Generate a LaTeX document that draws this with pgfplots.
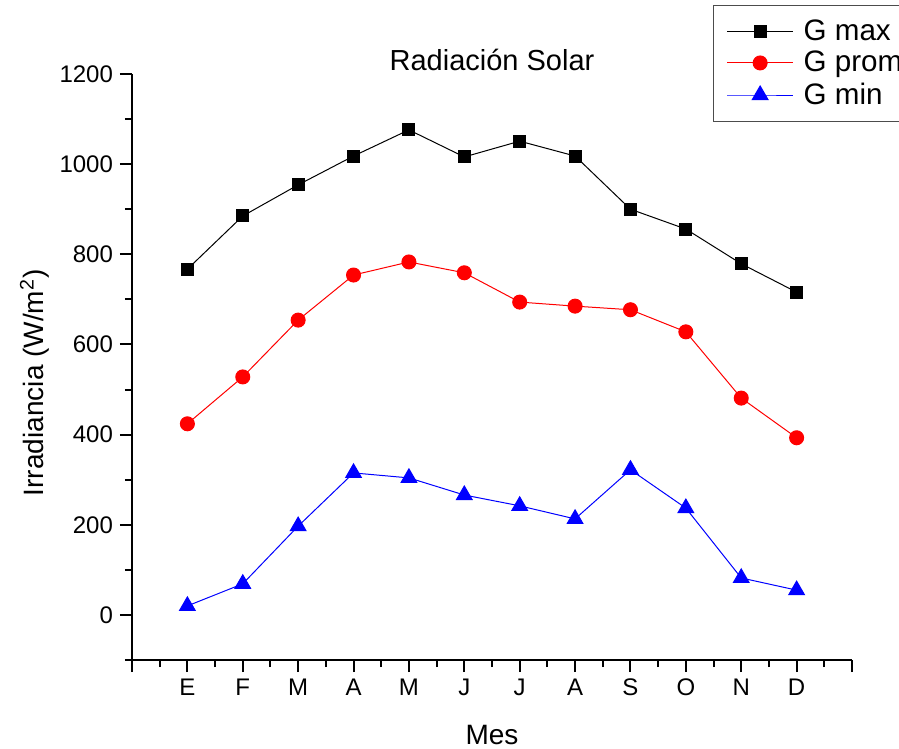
\documentclass[border=0pt]{standalone}
\usepackage{pgfplots}
\pgfplotsset{compat=1.18}
\usepackage{fontspec}
\setmainfont{Liberation Sans}
\begin{document}
\begin{tikzpicture}
\begin{axis}[
  scale only axis, width=360pt, height=293pt,
  xmin=0, xmax=13, ymin=-100, ymax=1200,
  axis lines*=left,
  axis line style={line width=1pt},
  tick style={line width=1pt, black},
  tick align=outside,
  major tick length=6pt, minor tick length=3.5pt,
  xtick={0,...,13},
  xticklabels={,E,F,M,A,M,J,J,A,S,O,N,D,},
  minor xtick={0.5,1.5,...,12.5},
  ytick={0,200,...,1200},
  minor ytick={-100,100,...,1100},
  /pgf/number format/assume math mode=true,
  /pgf/number format/1000 sep={},
  tick label style={font=\fontsize{12}{14}\selectfont},
  title={Radiación Solar},
  title style={font=\fontsize{14.5}{16}\selectfont, at={(axis description cs:0.5,1)}, anchor=base, yshift=-4.5pt},
  xlabel={Mes},
  ylabel={Irradiancia (W/m\textsuperscript{2})},
  xlabel style={font=\fontsize{14}{16}\selectfont, at={(axis description cs:0.5,-0.128)}, anchor=center},
  ylabel style={font=\fontsize{14}{16}\selectfont, at={(axis description cs:-0.135,0.473)}, anchor=center},
  legend style={at={(axis description cs:0.807,1.118)}, anchor=north west,
    font=\fontsize{14.8}{17.5}\selectfont, draw=black!70, line width=0.6pt,
    row sep=0pt, inner xsep=6.5pt, inner ysep=5pt},
  legend image code/.code={%
    \draw[mark repeat=2,mark phase=2,#1] plot coordinates {(0pt,0pt) (16.5pt,0pt) (33pt,0pt)};},
  legend cell align=left,
  clip=false,
]
\addplot[black, line width=0.5pt, mark=square*, mark size=3pt, mark options={solid, fill=black}]
  coordinates {(1,767) (2,885) (3,954) (4,1018) (5,1076) (6,1016) (7,1051) (8,1018) (9,900) (10,856) (11,779) (12,716)};
\addlegendentry{\hspace{3pt}G max}
\addplot[red, line width=0.5pt, mark=*, mark size=3.5pt, mark options={solid, fill=red}]
  coordinates {(1,424) (2,528) (3,654) (4,754) (5,783) (6,759) (7,694) (8,685) (9,677) (10,628) (11,481) (12,393)};
\addlegendentry{\hspace{3pt}G prom}
\addplot[blue, line width=0.5pt, mark=triangle*, mark size=4.5pt, mark options={solid, fill=blue}]
  coordinates {(1,20) (2,69) (3,197) (4,315) (5,304) (6,266) (7,242) (8,213) (9,322) (10,237) (11,82) (12,55)};
\addlegendentry{\hspace{3pt}G min}
\end{axis}
\pgfresetboundingbox
\useasboundingbox (-66pt,-44.5pt) rectangle (383.5pt,330pt);
\end{tikzpicture}
\end{document}
